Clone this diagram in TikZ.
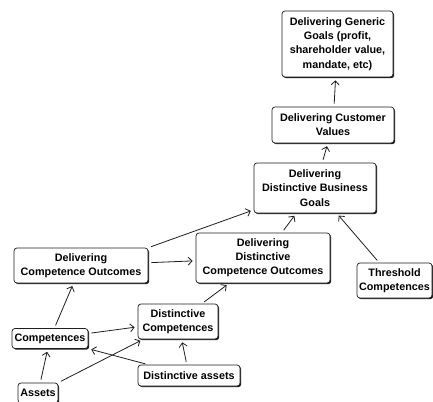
\documentclass[tikz,border=0pt]{standalone}
\usepackage{fontspec}
\setmainfont{Liberation Sans}
\usepackage{tikz}
\usepackage{xcolor}
\definecolor{line}{RGB}{30,30,30}
\usetikzlibrary{positioning, calc, shapes, arrows.meta, shadows}
\tikzstyle{Box} = [
draw=line,
line width=0.7pt,
rounded corners=3pt,
fill=white,
drop shadow={shadow xshift=1.2pt, shadow yshift=-1.2pt, fill=line, opacity=1},
align=center,
inner sep=1pt,
font=\fontsize{10.8}{14.2}\selectfont\bfseries]
\tikzstyle{Arrow} = [
draw=line,
line width=0.8pt,
-{Straight Barb[length=4pt, width=8pt]},
shorten >= 3pt, shorten <= 3pt]

\begin{document}
\begin{tikzpicture}[x=1pt, y=-1pt]
    \useasboundingbox (0,0) rectangle (433,401);
    \node [Box, minimum width=40pt, minimum height=20pt] (1) at (38,393) {Assets};
    \node [Box, minimum width=76pt, minimum height=20pt] (2) at (50,338.5) {Competences};
    \node [Box, minimum width=102pt, minimum height=21pt] (3) at (189,375.5) {Distinctive assets};
    \node [Box, minimum width=80pt, minimum height=35pt] (4) at (178,321.5) {Distinctive\\Competences};
    \node [Box, minimum width=134pt, minimum height=35pt] (5) at (81,265.5) {Delivering\\Competence Outcomes};
    \node [Box, minimum width=134pt, minimum height=50pt] (6) at (263,258) {Delivering\\Distinctive\\Competence Outcomes};
    \node [Box, minimum width=75pt, minimum height=35pt] (7) at (394.5,280.5) {Threshold\\Competences};
    \node [Box, minimum width=122pt, minimum height=50pt] (8) at (315,188) {Delivering\\Distinctive Business\\Goals};
    \node [Box, minimum width=122pt, minimum height=36pt] (9) at (333,125) {Delivering Customer\\Values};
    \node [Box, minimum width=111pt, minimum height=66pt] (10) at (337.5,44) {Delivering Generic\\Goals (profit,\\shareholder value,\\mandate, etc)};

    \draw[Arrow] (1) -- (2);
    \draw[Arrow] (1) -- (4);
    \draw[Arrow] (3) -- (2);
    \draw[Arrow] (2) -- (4);
    \draw[Arrow] (2) -- (5);
    \draw[Arrow] (3) -- (4);
    \draw[Arrow] (4) -- (6);
    \draw[Arrow] (5) -- (6);
    \draw[Arrow] (5.north east) -- (8);
    \draw[Arrow] (6) -- (8);
    \draw[Arrow] (7) -- (8);
    \draw[Arrow] (8) -- (9);
    \draw[Arrow] (9) -- (10);
\end{tikzpicture}
\end{document}
